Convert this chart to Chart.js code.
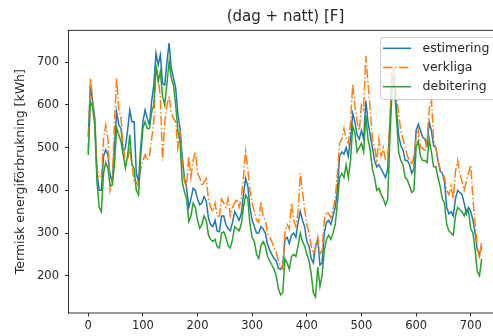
<!DOCTYPE html>
<html>
<head>
<meta charset="utf-8">
<script src="https://cdn.jsdelivr.net/npm/chart.js@4"></script>
<style>
  html, body { margin: 0; padding: 0; background: #fff; overflow: hidden; }
  #chart { display: block; }
</style>
</head>
<body>
<canvas id="chart" width="520" height="336"></canvas>
<script>
const days = [
    0, 4, 8, 12, 16, 20, 24, 28, 32, 36, 40, 44, 48, 52, 56, 60, 64, 68, 72, 76,
    80, 84, 88, 92, 96, 100, 104, 108, 112, 116, 120, 124, 128, 132, 136, 140, 144, 148, 152, 156,
    160, 164, 168, 172, 176, 180, 184, 188, 192, 196, 200, 204, 208, 212, 216, 220, 224, 228, 232, 236,
    240, 244, 248, 252, 256, 260, 264, 268, 272, 276, 280, 284, 288, 292, 296, 300, 304, 308, 312, 316,
    320, 324, 328, 332, 336, 340, 344, 348, 352, 356, 360, 364, 368, 372, 376, 380, 384, 388, 392, 396,
    400, 404, 408, 412, 416, 420, 424, 428, 432, 436, 440, 444, 448, 452, 456, 460, 464, 468, 472, 476,
    480, 484, 488, 492, 496, 500, 504, 508, 512, 516, 520, 524, 528, 532, 536, 540, 544, 548, 552, 556,
    560, 564, 568, 572, 576, 580, 584, 588, 592, 596, 600, 604, 608, 612, 616, 620, 624, 628, 632, 636,
    640, 644, 648, 652, 656, 660, 664, 668, 672, 676, 680, 684, 688, 692, 696, 700, 704, 708, 712, 716, 720
];

const estimering = [
    525, 645, 608, 569, 440, 400, 400, 480, 495, 483, 436, 420, 500, 584, 553, 545, 491, 500, 540, 588,
    561, 561, 440, 420, 500, 560, 588, 569, 553, 608, 647, 721, 694, 717, 650, 647, 700, 745, 686, 663,
    640, 580, 545, 480, 430, 405, 360, 380, 405, 400, 380, 366, 370, 385, 375, 335, 320, 315, 330, 305,
    303, 340, 340, 320, 310, 305, 325, 350, 340, 330, 345, 390, 428, 410, 360, 330, 315, 300, 300, 315,
    310, 300, 275, 260, 250, 240, 235, 217, 215, 225, 285, 290, 275, 295, 300, 290, 325, 350, 330, 315,
    280, 270, 240, 230, 270, 285, 225, 230, 300, 325, 330, 320, 340, 360, 400, 480, 490, 485, 500, 480,
    520, 580, 560, 530, 520, 540, 520, 610, 560, 530, 500, 470, 455, 460, 450, 440, 430, 450, 560, 670,
    650, 590, 530, 505, 495, 470, 470, 460, 440, 450, 540, 555, 540, 525, 520, 505, 560, 540, 505, 500,
    470, 445, 440, 420, 360, 345, 350, 340, 380, 400, 395, 390, 370, 345, 360, 350, 330, 300, 260, 250, 270
];

const verkliga = [
    490, 662, 620, 560, 450, 430, 428, 520, 553, 520, 400, 420, 560, 662, 590, 569, 500, 470, 470, 500,
    460, 420, 420, 410, 450, 470, 483, 470, 480, 520, 561, 694, 660, 620, 470, 560, 600, 620, 580, 569,
    560, 500, 540, 460, 420, 410, 480, 430, 470, 491, 440, 430, 410, 420, 428, 380, 360, 350, 370, 340,
    340, 380, 370, 360, 381, 340, 360, 370, 380, 360, 380, 430, 491, 450, 400, 370, 350, 330, 325, 374,
    340, 330, 300, 290, 280, 265, 255, 235, 220, 215, 300, 320, 310, 370, 330, 315, 350, 440, 400, 355,
    320, 300, 270, 250, 265, 290, 250, 260, 330, 350, 345, 335, 355, 380, 440, 510, 520, 545, 520, 510,
    560, 650, 600, 560, 540, 600, 590, 715, 650, 590, 520, 500, 470, 520, 480, 500, 470, 470, 560, 660,
    690, 620, 580, 540, 520, 500, 480, 470, 460, 480, 520, 540, 500, 500, 490, 520, 590, 615, 520, 500,
    470, 450, 440, 430, 400, 390, 410, 380, 445, 470, 440, 420, 400, 420, 440, 460, 380, 320, 270, 240, 280
];

const debitering = [
    483, 608, 596, 553, 420, 360, 350, 440, 465, 452, 412, 412, 460, 545, 530, 514, 483, 452, 480, 530,
    460, 452, 400, 389, 480, 545, 561, 545, 545, 584, 600, 694, 655, 678, 620, 600, 650, 702, 663, 647,
    600, 540, 515, 420, 397, 381, 327, 340, 370, 360, 330, 311, 320, 340, 330, 295, 285, 280, 285, 268,
    265, 300, 303, 290, 270, 265, 285, 315, 310, 305, 320, 360, 389, 380, 320, 290, 280, 250, 240, 270,
    280, 270, 245, 235, 225, 215, 200, 170, 155, 160, 240, 230, 215, 245, 250, 245, 270, 300, 280, 270,
    250, 235, 205, 160, 150, 220, 175, 200, 260, 285, 295, 285, 300, 320, 370, 430, 440, 430, 460, 430,
    470, 550, 535, 490, 500, 510, 490, 575, 520, 495, 450, 430, 400, 405, 390, 380, 365, 380, 520, 640,
    650, 570, 490, 470, 460, 430, 425, 410, 395, 400, 500, 515, 480, 470, 470, 465, 520, 490, 455, 455,
    430, 410, 380, 370, 320, 305, 300, 295, 340, 360, 355, 350, 340, 355, 350, 310, 300, 260, 210, 200, 240
];

const xTicks = [0, 100, 200, 300, 400, 500, 600, 700];
const yTicks = [200, 300, 400, 500, 600, 700];

const seriesNames = ['estimering', 'verkliga', 'debitering'];
const seriesColors = ['#1f77b4', '#ff7f0e', '#2ca02c'];
const DASH_DOT = [9.6, 2.4, 1.5, 2.4];

const FONT = 'DejaVu Sans';

function toPoints(values) {
    return values.map((v, i) => ({ x: days[i], y: v }));
}

// frame, title, y label and the legend box, drawn the way pyplot lays them out
const decorations = {
    id: 'decorations',
    afterDraw(chart) {
        const { ctx, chartArea: { left, top, right, bottom } } = chart;
        ctx.save();

        ctx.strokeStyle = '#000';
        ctx.lineWidth = 0.8;
        ctx.strokeRect(left, top, right - left, bottom - top);

        ctx.fillStyle = '#262626';
        ctx.font = `15px "${FONT}"`;
        ctx.textAlign = 'center';
        ctx.textBaseline = 'middle';
        ctx.fillText('(dag + natt) [F]', (left + right) / 2, 17.5);

        ctx.save();
        ctx.translate(21, (top + bottom) / 2);
        ctx.rotate(-Math.PI / 2);
        ctx.font = `12.5px "${FONT}"`;
        ctx.fillText('Termisk energiförbrukning [kWh]', 0, 0);
        ctx.restore();

        // legend
        const lx = 380, ly = 37, lw = 140, lh = 62;
        ctx.fillStyle = 'rgba(255,255,255,0.8)';
        ctx.strokeStyle = '#cccccc';
        ctx.lineWidth = 1;
        ctx.beginPath();
        ctx.roundRect(lx + 0.5, ly + 0.5, lw, lh, 3);
        ctx.fill();
        ctx.stroke();

        ctx.font = `12.5px "${FONT}"`;
        ctx.textAlign = 'left';
        seriesNames.forEach((name, i) => {
            const y = 48.3 + i * 19.2;
            ctx.strokeStyle = seriesColors[i];
            ctx.lineWidth = 1.5;
            ctx.setLineDash(i === 1 ? DASH_DOT : []);
            ctx.beginPath();
            ctx.moveTo(383, y);
            ctx.lineTo(411, y);
            ctx.stroke();
            ctx.setLineDash([]);
            ctx.fillStyle = '#262626';
            ctx.fillText(name, 422.5, y);
        });

        ctx.restore();
    }
};

const ctx = document.getElementById('chart').getContext('2d');
new Chart(ctx, {
    type: 'line',
    data: {
        datasets: [{
                label: seriesNames[0],
                data: toPoints(estimering),
                borderColor: seriesColors[0],
                borderWidth: 1.5,
                order: 3
            },
            {
                label: seriesNames[1],
                data: toPoints(verkliga),
                borderColor: seriesColors[1],
                borderWidth: 1.5,
                borderDash: DASH_DOT,
                order: 2
            },
            {
                label: seriesNames[2],
                data: toPoints(debitering),
                borderColor: seriesColors[2],
                borderWidth: 1.5,
                order: 1
            }
        ]
    },
    options: {
        responsive: false,
        animation: false,
        events: [],
        layout: {
            padding: { left: 0, right: 17.5, top: 30.3, bottom: 0 }
        },
        elements: {
            point: { radius: 0 },
            line: { tension: 0, fill: false }
        },
        plugins: {
            legend: { display: false },
            title: { display: false },
            tooltip: { enabled: false }
        },
        scales: {
            x: {
                type: 'linear',
                min: -36.1,
                max: 758.1,
                afterFit: s => { s.height = 23; },
                afterBuildTicks: s => { s.ticks = xTicks.map(v => ({ value: v })); },
                grid: { drawOnChartArea: false, drawTicks: true, tickLength: 3.5, color: '#000', lineWidth: 0.8 },
                border: { display: false },
                ticks: {
                    padding: 3,
                    maxRotation: 0,
                    autoSkip: false,
                    color: '#262626',
                    font: { family: FONT, size: 11.5 }
                }
            },
            y: {
                min: 112.6,
                max: 775,
                afterFit: s => { s.width = 68.5; },
                afterBuildTicks: s => { s.ticks = yTicks.map(v => ({ value: v })); },
                grid: { drawOnChartArea: false, drawTicks: true, tickLength: 3.5, color: '#000', lineWidth: 0.8 },
                border: { display: false },
                ticks: {
                    padding: 6,
                    autoSkip: false,
                    color: '#262626',
                    font: { family: FONT, size: 11.5 }
                }
            }
        }
    },
    plugins: [decorations]
});
</script>
</body>
</html>
